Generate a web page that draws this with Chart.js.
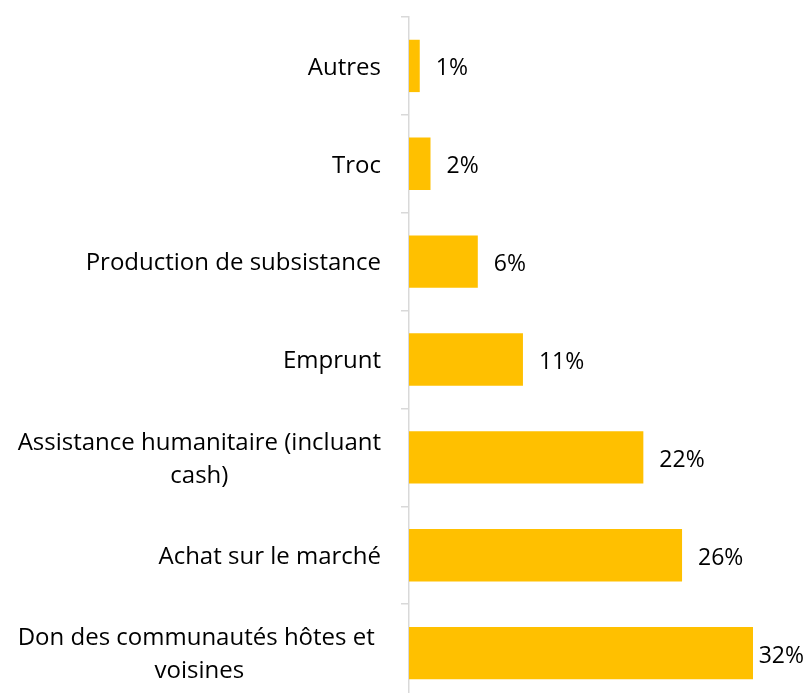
<!DOCTYPE html>
<html lang="fr">
<head>
    <meta charset="UTF-8">
    <title>Sources de nourriture</title>
    <script src="https://cdn.jsdelivr.net/npm/chart.js"></script>
    <style>
        html, body {
            margin: 0;
            padding: 0;
            background: #ffffff;
            overflow: hidden;
        }
        #wrap {
            width: 806px;
            height: 702px;
        }
    </style>
</head>
<body>

<div id="wrap">
    <canvas id="sourceChart" width="806" height="702"></canvas>
</div>

<script>
    const categories = [
        ['Autres'],
        ['Troc'],
        ['Production de subsistance'],
        ['Emprunt'],
        ['Assistance humanitaire (incluant', 'cash)'],
        ['Achat sur le marché'],
        ['Don des communautés hôtes et ', 'voisines']
    ];
    const values = [1.0, 2.0, 6.4, 10.6, 21.8, 25.4, 32.0];
    const valueLabels = ['1%', '2%', '6%', '11%', '22%', '26%', '32%'];

    const fontFamily = '"Open Sans", Lato, sans-serif';
    const categoryFont = '24px ' + fontFamily;
    const valueFont = '23px ' + fontFamily;
    const textColor = '#000000';

    // Libellés de l'axe des catégories (lignes centrées, bloc aligné à droite)
    const categoryLabelsPlugin = {
        id: 'categoryLabels',
        afterDraw(chart) {
            const ctx = chart.ctx;
            const yScale = chart.scales.y;
            const right = chart.chartArea.left - 28;
            const lineHeight = 33;
            ctx.save();
            ctx.font = categoryFont;
            ctx.fillStyle = textColor;
            ctx.textAlign = 'center';
            ctx.textBaseline = 'middle';
            categories.forEach((lines, i) => {
                const widest = Math.max(...lines.map(l => ctx.measureText(l).width));
                const cx = right - widest / 2;
                const cy = yScale.getPixelForTick(i) + 2;
                const top = cy - (lines.length - 1) * lineHeight / 2;
                lines.forEach((l, j) => ctx.fillText(l, cx, top + j * lineHeight));
            });
            ctx.restore();
        }
    };

    // Étiquettes de données à droite des barres
    const valueLabelsPlugin = {
        id: 'valueLabels',
        afterDatasetsDraw(chart) {
            const ctx = chart.ctx;
            const meta = chart.getDatasetMeta(0);
            ctx.save();
            ctx.font = valueFont;
            ctx.fillStyle = textColor;
            ctx.textAlign = 'left';
            ctx.textBaseline = 'middle';
            meta.data.forEach((bar, i) => {
                const txt = valueLabels[i];
                const w = ctx.measureText(txt).width;
                let x = bar.x + 16;
                if (x + w > chart.width - 2) x = chart.width - 2 - w;
                ctx.fillText(txt, x, bar.y + 3);
            });
            ctx.restore();
        }
    };

    const ctx = document.getElementById('sourceChart').getContext('2d');
    new Chart(ctx, {
        type: 'bar',
        data: {
            labels: categories,
            datasets: [{
                data: values,
                backgroundColor: '#FFC000',
                borderWidth: 0,
                categoryPercentage: 1,
                barPercentage: 0.535
            }]
        },
        options: {
            indexAxis: 'y',
            responsive: false,
            animation: false,
            devicePixelRatio: 1,
            layout: {
                padding: { left: 401, right: 10, top: 17, bottom: 0 }
            },
            plugins: {
                legend: { display: false },
                tooltip: { enabled: false }
            },
            scales: {
                x: {
                    display: false,
                    min: 0,
                    max: 36
                },
                y: {
                    grid: {
                        display: true,
                        drawOnChartArea: false,
                        drawTicks: true,
                        tickLength: 8,
                        color: '#d9d9d9',
                        lineWidth: 1.5
                    },
                    border: {
                        display: true,
                        color: '#d9d9d9',
                        width: 1.5
                    },
                    ticks: { display: false }
                }
            }
        },
        plugins: [categoryLabelsPlugin, valueLabelsPlugin]
    });
</script>

</body>
</html>
